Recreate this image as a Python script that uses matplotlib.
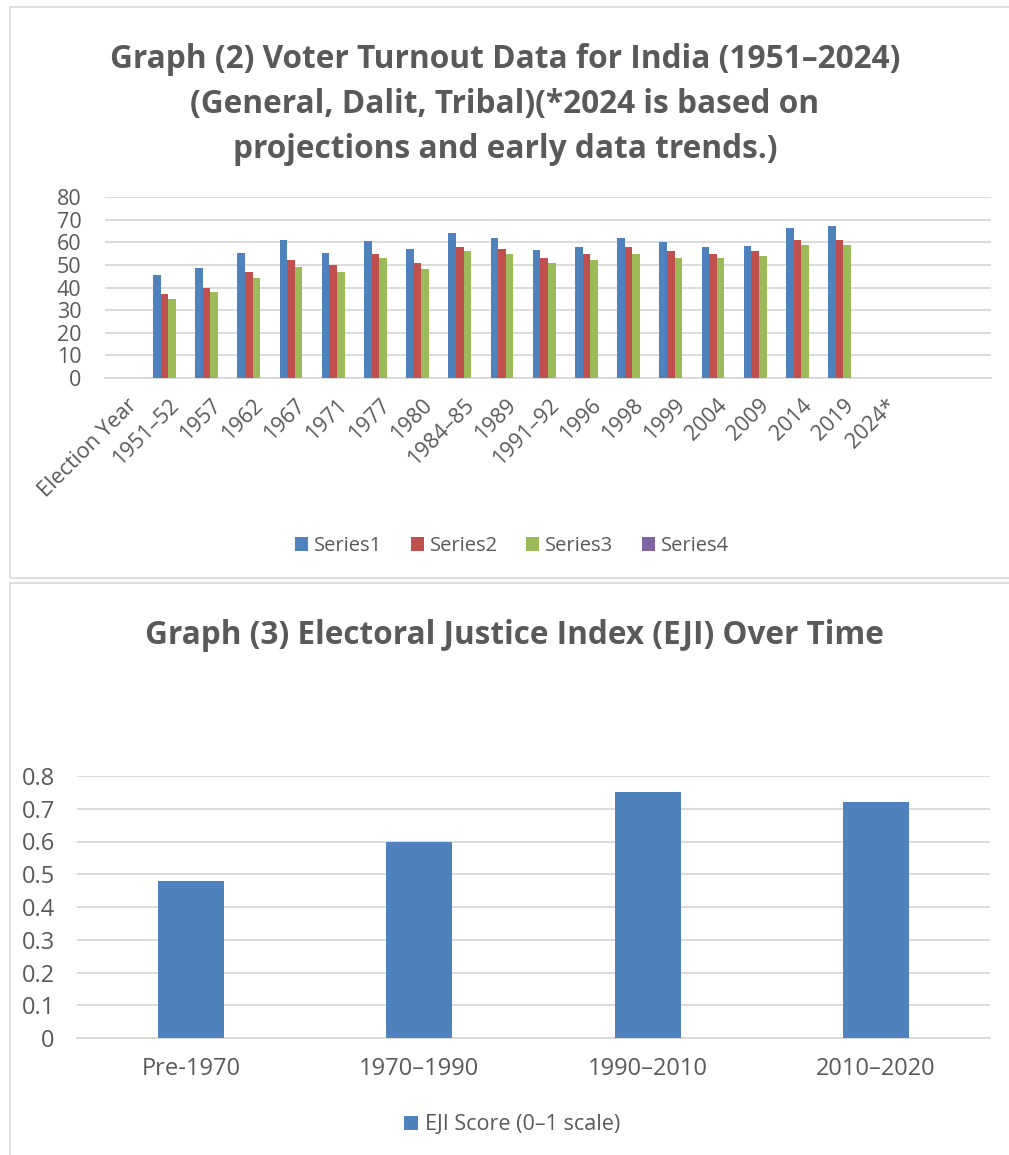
import numpy as np
import matplotlib
matplotlib.use('Agg')
import matplotlib.pyplot as plt
from matplotlib.patches import Rectangle

plt.rcParams['font.family'] = ['Open Sans', 'DejaVu Sans']

# ---- data: graph (2)
years = ['Election Year', '1951–52', '1957', '1962', '1967', '1971', '1977', '1980',
         '1984–85', '1989', '1991–92', '1996', '1998', '1999', '2004', '2009',
         '2014', '2019', '2024*']
series1 = [np.nan, 45.7, 48.4, 55.4, 61.0, 55.3, 60.5, 56.9, 64.0, 62.0,
           56.7, 57.9, 62.0, 60.0, 58.1, 58.2, 66.4, 67.4, np.nan]
series2 = [np.nan, 37, 40, 47, 52, 50, 55, 51, 58, 57,
           53, 55, 58, 56, 55, 56, 61, 61, np.nan]
series3 = [np.nan, 35, 38, 44, 49, 47, 53, 48, 56, 55,
           51, 52, 55, 53, 53, 54, 59, 59, np.nan]
series4 = [np.nan] * len(years)
series_names = ['Series1', 'Series2', 'Series3', 'Series4']

# ---- data: graph (3)
periods = ['Pre-1970', '1970–1990', '1990–2010', '2010–2020']
eji = [0.48, 0.60, 0.75, 0.72]

colors = ['#4f81bd', '#c0504d', '#9bbb59', '#8064a2']
txt = '#595959'
grid = '#d9d9d9'

W, H = 1009, 1155
fig = plt.figure(figsize=(W / 100, H / 100), dpi=100)

# panel borders
for (x0, y0, x1, y1) in [(10, 7, 1012, 578), (10, 583, 1012, 1160)]:
    fig.patches.append(Rectangle((x0 / W, 1 - y1 / H), (x1 - x0) / W, (y1 - y0) / H,
                                 transform=fig.transFigure, fill=False,
                                 edgecolor=grid, linewidth=1.2))


def px_axes(l, t, r, b):
    return fig.add_axes([l / W, 1 - b / H, (r - l) / W, (b - t) / H])


# ---------- graph (2)
ax = px_axes(105, 197, 991, 378)
x = np.arange(len(years))
bw = 0.18
handles = []
for i, (vals, name) in enumerate(zip([series1, series2, series3, series4], series_names)):
    h = ax.bar(x + (i - 1.5) * bw, vals, bw, color=colors[i], label=name, zorder=3)
    handles.append(h)
ax.set_xlim(-0.5, 20.5)
ax.set_ylim(0, 80)
ax.set_yticks(range(0, 81, 10))
ax.set_xticks(x)
ax.set_xticklabels(years, rotation=45, ha='right', rotation_mode='anchor')
ax.tick_params(axis='x', length=0, pad=12, labelsize=15.5, labelcolor=txt)
ax.tick_params(axis='y', length=0, pad=17, labelsize=15.5, labelcolor=txt)
ax.grid(axis='y', color=grid, linewidth=1.3, zorder=0)
for s in ['top', 'right', 'left']:
    ax.spines[s].set_visible(False)
ax.spines['bottom'].set_color(grid)
ax.spines['bottom'].set_linewidth(1.3)

title_lines = ['Graph (2) Voter Turnout Data for India (1951–2024)',
               '(General, Dalit, Tribal)(*2024 is based on',
               'projections and early data trends.)']
for k, line in enumerate(title_lines):
    fig.text(505 / W, 1 - (59 + 45 * k) / H, line,
             ha='center', va='center', fontsize=22.8, fontweight='bold', color=txt)

fig.legend(handles=handles, loc='center', bbox_to_anchor=(512 / W, 1 - 546 / H),
           ncol=4, frameon=False, fontsize=14.5, labelcolor=txt,
           handlelength=0.65, handleheight=0.65, handletextpad=0.3, columnspacing=1.4)

# ---------- graph (3)
ax2 = px_axes(77, 776, 990, 1038)
x2 = np.arange(len(periods))
b = ax2.bar(x2, eji, 0.29, color=colors[0], label='EJI Score (0–1 scale)', zorder=3)
ax2.set_xlim(-0.5, len(periods) - 0.5)
ax2.set_ylim(0, 0.8)
ax2.set_yticks(np.arange(0, 0.81, 0.1))
ax2.set_yticklabels(['0' if v == 0 else f'{v:.1f}' for v in np.arange(0, 0.81, 0.1)])
ax2.set_xticks(x2)
ax2.set_xticklabels(periods)
ax2.tick_params(axis='x', length=0, pad=14, labelsize=17, labelcolor=txt)
ax2.tick_params(axis='y', length=0, pad=16, labelsize=17, labelcolor=txt)
ax2.grid(axis='y', color=grid, linewidth=1.3, zorder=0)
for s in ['top', 'right', 'left']:
    ax2.spines[s].set_visible(False)
ax2.spines['bottom'].set_color(grid)
ax2.spines['bottom'].set_linewidth(1.3)

fig.text(514 / W, 1 - 636 / H, 'Graph (3) Electoral Justice Index (EJI) Over Time',
         ha='center', va='center', fontsize=22.7, fontweight='bold', color=txt)

fig.legend(handles=[b], loc='center', bbox_to_anchor=(512 / W, 1 - 1125 / H),
           frameon=False, fontsize=15.5, labelcolor=txt,
           handlelength=0.65, handleheight=0.65, handletextpad=0.3)

fig.savefig('out.png', dpi=100)
